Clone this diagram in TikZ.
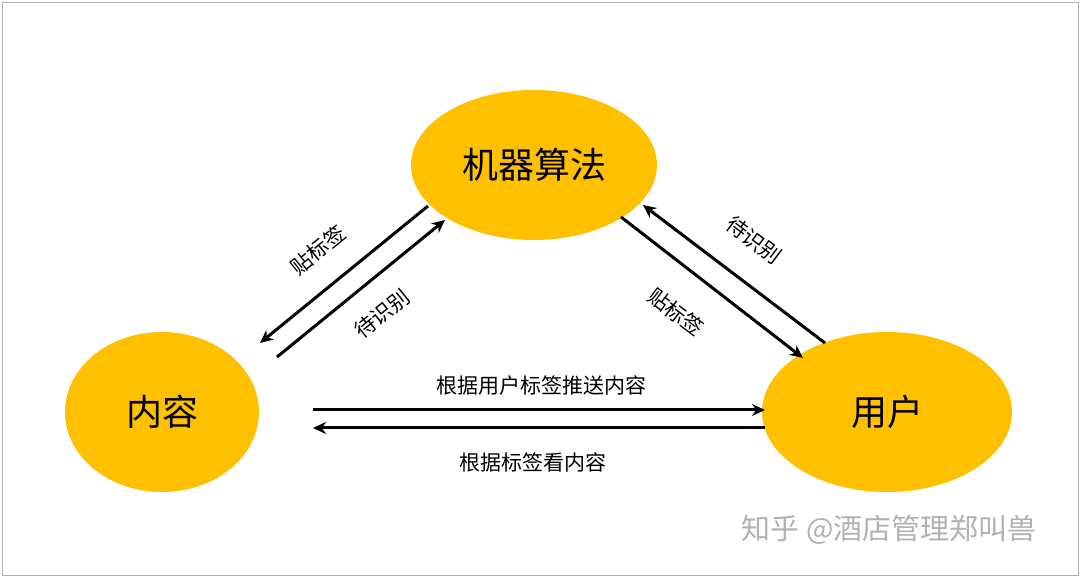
\documentclass[tikz,border=0pt]{standalone}
\usepackage{fontspec}
\newfontfamily\cjk{Noto Sans CJK SC}
\usetikzlibrary{shapes.geometric,arrows.meta}
\begin{document}
\begin{tikzpicture}[x=1pt,y=-1pt,
  bub/.style={ellipse,draw=none,font=\cjk\fontsize{36}{36}\selectfont},
  arr/.style={draw,line width=3pt,-{Stealth[length=13pt,width=12pt]}},
  lab/.style={font=\cjk\fontsize{21}{21}\selectfont}]
\fill[white] (0,0) rectangle (1080,577);
\draw[gray!60,line width=0.8pt] (2,2) rectangle (1078,575);
\definecolor{gold}{HTML}{FFC000}
\node[bub,fill=gold,minimum width=246pt,minimum height=150pt] (m) at (534,165) {机器算法};
\node[bub,fill=gold,minimum width=194pt,minimum height=160pt] (c) at (162,412) {内容};
\node[bub,fill=gold,minimum width=250pt,minimum height=160pt] (u) at (887,412) {用户};
\coordinate (a1) at (428,206); \coordinate (a2) at (260,343);
\coordinate (b1) at (277,357); \coordinate (b2) at (445,220);
\coordinate (c1) at (825,343); \coordinate (c2) at (643,205);
\coordinate (d1) at (621,217); \coordinate (d2) at (803,358);
\coordinate (e1) at (313,410); \coordinate (e2) at (765,410);
\coordinate (f1) at (765,428); \coordinate (f2) at (313,428);
\draw[arr] (a1) -- (a2);
\draw[arr] (b1) -- (b2);
\draw[arr] (c1) -- (c2);
\draw[arr] (d1) -- (d2);
\draw[arr] (e1) -- (e2);
\draw[arr] (f1) -- (f2);
\node[lab,rotate=39] (l1) at (318,250) {贴标签};
\node[lab,rotate=39] (l2) at (382,314) {待识别};
\node[lab,rotate=-37] (l3) at (754,240) {待识别};
\node[lab,rotate=-37] (l4) at (676,312) {贴标签};
\node[lab] (l5) at (541,386) {根据用户标签推送内容};
\node[lab] (l6) at (533,462) {根据标签看内容};
\node[font=\cjk\fontsize{29}{29}\selectfont,text=gray!60] (w) at (889,530) {知乎 @酒店管理郑叫兽};
\end{tikzpicture}
\end{document}
